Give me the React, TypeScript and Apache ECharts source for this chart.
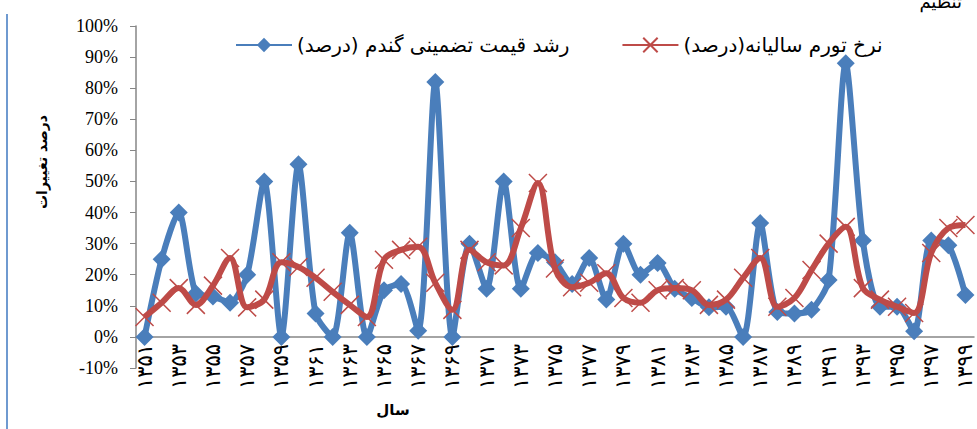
import React, { useEffect, useRef } from "react";
import * as echarts from "echarts";

const years: string[] = [
  "۱۳۵۱", "۱۳۵۲", "۱۳۵۳", "۱۳۵۴", "۱۳۵۵", "۱۳۵۶", "۱۳۵۷", "۱۳۵۸", "۱۳۵۹", "۱۳۶۰",
  "۱۳۶۱", "۱۳۶۲", "۱۳۶۳", "۱۳۶۴", "۱۳۶۵", "۱۳۶۶", "۱۳۶۷", "۱۳۶۸", "۱۳۶۹", "۱۳۷۰",
  "۱۳۷۱", "۱۳۷۲", "۱۳۷۳", "۱۳۷۴", "۱۳۷۵", "۱۳۷۶", "۱۳۷۷", "۱۳۷۸", "۱۳۷۹", "۱۳۸۰",
  "۱۳۸۱", "۱۳۸۲", "۱۳۸۳", "۱۳۸۴", "۱۳۸۵", "۱۳۸۶", "۱۳۸۷", "۱۳۸۸", "۱۳۸۹", "۱۳۹۰",
  "۱۳۹۱", "۱۳۹۲", "۱۳۹۳", "۱۳۹۴", "۱۳۹۵", "۱۳۹۶", "۱۳۹۷", "۱۳۹۸", "۱۳۹۹",
];

const wheatPriceGrowth: number[] = [
  0, 25, 40, 14, 13, 11, 20, 50, 0, 55.5,
  7.5, 0, 33.5, 0, 15, 17, 2, 82, 0, 30,
  15.5, 50, 15.5, 27, 24, 17, 25.4, 12, 30, 20,
  23.8, 15.5, 12.5, 9.5, 9.7, 0, 36.6, 8, 7.5, 8.7,
  18.3, 88, 31, 9.7, 9.7, 1.8, 31, 29.5, 13.5,
];

const inflationRate: number[] = [
  6.4, 11, 15.7, 10.3, 16.5, 25.4, 9.5, 12, 24, 22.5,
  19, 14.5, 10.3, 6.4, 24.8, 28, 29, 17.4, 8.7, 28,
  24, 23, 35, 49.5, 22, 16, 17.4, 20.5, 12.5, 11,
  15, 15.7, 15, 10.3, 12, 19, 25.4, 9.7, 12.5, 21.5,
  30, 35.4, 15.7, 12, 9.7, 7.7, 27, 35, 36,
];

const yTicks = { min: -10, max: 100, interval: 10 };

const seriesNames = ["رشد قیمت تضمینی گندم (درصد)", "نرخ تورم سالیانه(درصد)"];

export default function App() {
  const ref = useRef<HTMLDivElement>(null);
  useEffect(() => {
    if (!ref.current) return;
    const chart = echarts.init(ref.current, null, { renderer: "svg" });
    const persianFont = "DejaVu Sans";
    const gridTop = 26;
    const gridBottom = 61;
    const plotH = 429 - gridTop - gridBottom;
    const zeroOffset = (plotH * (0 - yTicks.min)) / (yTicks.max - yTicks.min);
    chart.setOption({
      animation: false,
      backgroundColor: "#ffffff",
      grid: {
        left: 136,
        right: 3,
        top: gridTop,
        bottom: gridBottom,
        containLabel: false,
        outerBoundsMode: "none",
      },
      legend: {
        left: 230,
        top: 30,
        itemWidth: 56,
        itemHeight: 18,
        itemGap: 52,
        textStyle: { fontFamily: persianFont, fontSize: 20, color: "#000" },
        data: seriesNames,
      },
      xAxis: {
        type: "category",
        data: years,
        boundaryGap: true,
        offset: -zeroOffset,
        axisLine: { onZero: false, lineStyle: { color: "#868686", width: 1.5 } },
        axisTick: { show: false },
        axisLabel: {
          interval: 1,
          rotate: 90,
          margin: 7,
          fontFamily: persianFont,
          fontSize: 21,
          color: "#000",
        },
        splitLine: { show: false },
      },
      yAxis: {
        type: "value",
        min: yTicks.min,
        max: yTicks.max,
        interval: yTicks.interval,
        axisLine: { show: true, lineStyle: { color: "#868686", width: 1.5 } },
        axisTick: { show: true, length: 6, lineStyle: { color: "#868686" } },
        axisLabel: {
          formatter: "{value}%",
          margin: 18,
          fontFamily: "Liberation Serif",
          fontSize: 18,
          color: "#000",
        },
        splitLine: { show: false },
      },
      series: [
        {
          name: seriesNames[0],
          type: "line",
          data: wheatPriceGrowth,
          smooth: 0.25,
          showAllSymbol: true,
          symbol: "diamond",
          symbolSize: 18,
          lineStyle: { color: "#4A7EBB", width: 6 },
          itemStyle: { color: "#4A7EBB" },
          z: 2,
        },
        {
          name: seriesNames[1],
          type: "line",
          data: inflationRate,
          smooth: 0.35,
          showAllSymbol: true,
          symbol: "path://M0,0 L10,10 M10,0 L0,10",
          symbolSize: 18,
          lineStyle: { color: "#BE4B48", width: 6 },
          itemStyle: { color: "#BE4B48", borderColor: "#BE4B48", borderWidth: 1.5 },
          z: 3,
        },
      ],
      graphic: [
        {
          type: "line",
          shape: { x1: 7, y1: 14, x2: 7, y2: 429 },
          style: { stroke: "#6F9AD0", lineWidth: 2 },
        },
        {
          type: "text",
          x: 42,
          y: 162,
          rotation: Math.PI / 2,
          style: {
            text: "درصد تغییرات",
            fontFamily: persianFont,
            fontSize: 14,
            fontWeight: "bold",
            fill: "#000",
            align: "center",
            verticalAlign: "middle",
          },
        },
        {
          type: "text",
          x: 393,
          y: 410,
          style: {
            text: "سال",
            fontFamily: persianFont,
            fontSize: 15,
            fontWeight: "bold",
            fill: "#000",
            align: "center",
            verticalAlign: "middle",
          },
        },
        {
          type: "text",
          x: 962,
          y: -8,
          style: {
            text: "تنظیم",
            fontFamily: persianFont,
            fontSize: 18,
            fill: "#000",
            align: "right",
            verticalAlign: "top",
          },
        },
      ],
    });
    return () => chart.dispose();
  }, []);
  return (
    <div
      ref={ref}
      style={{ position: "fixed", left: 0, top: 0, width: 977, height: 429 }}
    />
  );
}
